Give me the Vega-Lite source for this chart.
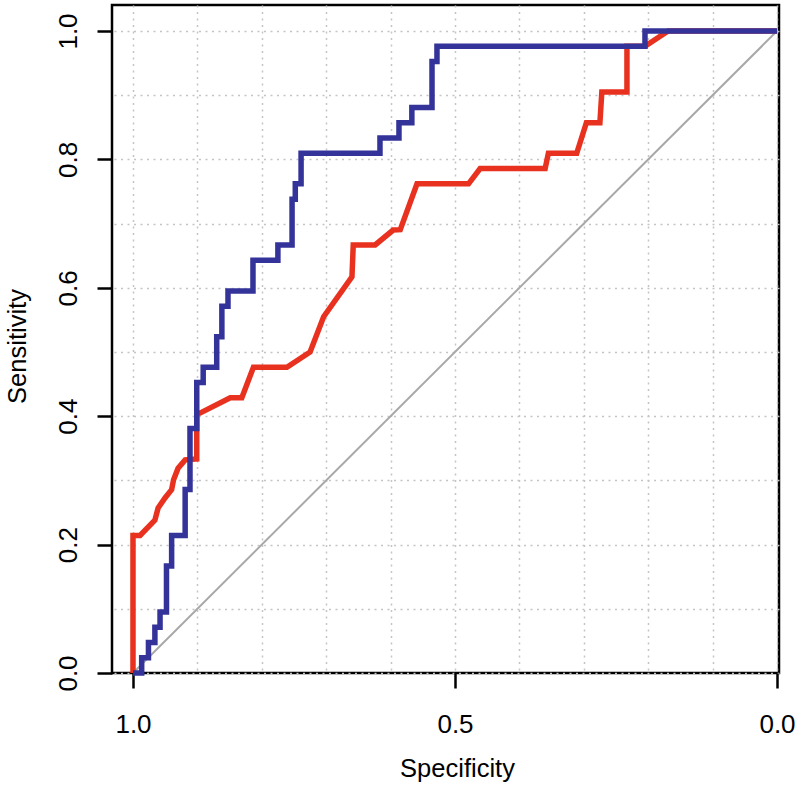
{
  "$schema": "https://vega.github.io/schema/vega-lite/v6.json",
  "width": 667,
  "height": 668,
  "autosize": {"type": "none"},
  "padding": {"left": 112, "top": 5, "right": 21, "bottom": 118},
  "background": "white",
  "config": {
    "view": {"stroke": "black", "strokeWidth": 2.5},
    "font": "Liberation Sans"
  },
  "datasets": {
    "diag": [
      {"i": 0, "spec": 1.0, "sens": 0.0},
      {"i": 1, "spec": 0.0, "sens": 1.0}
    ],
    "red": [
      {"i": 1, "spec": 1.0, "sens": 0.0},
      {"i": 2, "spec": 1.0, "sens": 0.2143},
      {"i": 3, "spec": 0.989, "sens": 0.2143},
      {"i": 4, "spec": 0.966, "sens": 0.238},
      {"i": 5, "spec": 0.961, "sens": 0.257},
      {"i": 6, "spec": 0.95, "sens": 0.273},
      {"i": 7, "spec": 0.94, "sens": 0.2857},
      {"i": 8, "spec": 0.937, "sens": 0.301},
      {"i": 9, "spec": 0.93, "sens": 0.319},
      {"i": 10, "spec": 0.919, "sens": 0.332},
      {"i": 11, "spec": 0.901, "sens": 0.3333},
      {"i": 12, "spec": 0.901, "sens": 0.4048},
      {"i": 13, "spec": 0.896, "sens": 0.4048},
      {"i": 14, "spec": 0.849, "sens": 0.4286},
      {"i": 15, "spec": 0.831, "sens": 0.4286},
      {"i": 16, "spec": 0.813, "sens": 0.4762},
      {"i": 17, "spec": 0.761, "sens": 0.4762},
      {"i": 18, "spec": 0.725, "sens": 0.5},
      {"i": 19, "spec": 0.704, "sens": 0.555},
      {"i": 20, "spec": 0.66, "sens": 0.617},
      {"i": 21, "spec": 0.658, "sens": 0.6667},
      {"i": 22, "spec": 0.624, "sens": 0.6667},
      {"i": 23, "spec": 0.596, "sens": 0.69},
      {"i": 24, "spec": 0.585, "sens": 0.6905},
      {"i": 25, "spec": 0.559, "sens": 0.7619},
      {"i": 26, "spec": 0.479, "sens": 0.7619},
      {"i": 27, "spec": 0.461, "sens": 0.7857},
      {"i": 28, "spec": 0.36, "sens": 0.7857},
      {"i": 29, "spec": 0.355, "sens": 0.8095},
      {"i": 30, "spec": 0.311, "sens": 0.8095},
      {"i": 31, "spec": 0.296, "sens": 0.8571},
      {"i": 32, "spec": 0.275, "sens": 0.8571},
      {"i": 33, "spec": 0.272, "sens": 0.9048},
      {"i": 34, "spec": 0.233, "sens": 0.9048},
      {"i": 35, "spec": 0.233, "sens": 0.9762},
      {"i": 36, "spec": 0.205, "sens": 0.9762},
      {"i": 37, "spec": 0.169, "sens": 1.0},
      {"i": 38, "spec": 0.0, "sens": 1.0}
    ],
    "blue": [
      {"i": 1, "spec": 1.0, "sens": 0.0},
      {"i": 2, "spec": 0.9865, "sens": 0.0},
      {"i": 3, "spec": 0.9865, "sens": 0.0238},
      {"i": 4, "spec": 0.976, "sens": 0.0238},
      {"i": 5, "spec": 0.976, "sens": 0.0476},
      {"i": 6, "spec": 0.966, "sens": 0.0476},
      {"i": 7, "spec": 0.966, "sens": 0.0714},
      {"i": 8, "spec": 0.958, "sens": 0.0714},
      {"i": 9, "spec": 0.958, "sens": 0.0952},
      {"i": 10, "spec": 0.948, "sens": 0.0952},
      {"i": 11, "spec": 0.948, "sens": 0.1667},
      {"i": 12, "spec": 0.94, "sens": 0.1667},
      {"i": 13, "spec": 0.94, "sens": 0.2143},
      {"i": 14, "spec": 0.919, "sens": 0.2143},
      {"i": 15, "spec": 0.919, "sens": 0.2857},
      {"i": 16, "spec": 0.9115, "sens": 0.2857},
      {"i": 17, "spec": 0.9115, "sens": 0.381},
      {"i": 18, "spec": 0.901, "sens": 0.381},
      {"i": 19, "spec": 0.901, "sens": 0.4524},
      {"i": 20, "spec": 0.891, "sens": 0.4524},
      {"i": 21, "spec": 0.891, "sens": 0.4762},
      {"i": 22, "spec": 0.87, "sens": 0.4762},
      {"i": 23, "spec": 0.87, "sens": 0.5238},
      {"i": 24, "spec": 0.862, "sens": 0.5238},
      {"i": 25, "spec": 0.862, "sens": 0.5714},
      {"i": 26, "spec": 0.8525, "sens": 0.5714},
      {"i": 27, "spec": 0.8525, "sens": 0.5952},
      {"i": 28, "spec": 0.8137, "sens": 0.5952},
      {"i": 29, "spec": 0.8137, "sens": 0.6429},
      {"i": 30, "spec": 0.775, "sens": 0.6429},
      {"i": 31, "spec": 0.775, "sens": 0.6667},
      {"i": 32, "spec": 0.753, "sens": 0.6667},
      {"i": 33, "spec": 0.753, "sens": 0.7381},
      {"i": 34, "spec": 0.748, "sens": 0.7381},
      {"i": 35, "spec": 0.748, "sens": 0.7619},
      {"i": 36, "spec": 0.739, "sens": 0.7619},
      {"i": 37, "spec": 0.739, "sens": 0.8095},
      {"i": 38, "spec": 0.6165, "sens": 0.8095},
      {"i": 39, "spec": 0.6165, "sens": 0.8333},
      {"i": 40, "spec": 0.587, "sens": 0.8333},
      {"i": 41, "spec": 0.587, "sens": 0.8571},
      {"i": 42, "spec": 0.567, "sens": 0.8571},
      {"i": 43, "spec": 0.567, "sens": 0.881},
      {"i": 44, "spec": 0.5357, "sens": 0.881},
      {"i": 45, "spec": 0.5357, "sens": 0.9524},
      {"i": 46, "spec": 0.528, "sens": 0.9524},
      {"i": 47, "spec": 0.528, "sens": 0.9762},
      {"i": 48, "spec": 0.205, "sens": 0.9762},
      {"i": 49, "spec": 0.205, "sens": 1.0},
      {"i": 50, "spec": 0.0, "sens": 1.0}
    ]
  },
  "encoding": {
    "x": {
      "field": "spec",
      "type": "quantitative",
      "scale": {"domain": [-0.0031, 1.0326], "reverse": true, "nice": false, "zero": false},
      "axis": {
        "title": "Specificity",
        "values": [0, 0.1, 0.2, 0.3, 0.4, 0.5, 0.6, 0.7, 0.8, 0.9, 1],
        "labelExpr": "indexof([0, 0.5, 1], datum.value) >= 0 ? format(datum.value, '.1f') : ''",
        "domain": false,
        "grid": true,
        "gridColor": "#c4c4c4",
        "gridDash": [2, 4.5],
        "gridWidth": 1.5,
        "ticks": true,
        "tickSize": 15,
        "tickWidth": 2.5,
        "tickColor": "black",
        "tickOpacity": {"condition": {"test": "indexof([0, 0.5, 1], datum.value) >= 0", "value": 1}, "value": 0},
        "labelFontSize": 26,
        "labelColor": "black",
        "labelPadding": 44,
        "labelBaseline": "alphabetic",
        "labelAlign": "center",
        "labelFlush": false,
        "labelOverlap": false,
        "labelBound": false,
        "titleFontSize": 25.5,
        "titleFontWeight": "normal",
        "titleColor": "black",
        "titleX": 345,
        "titleY": 103,
        "titleAlign": "center",
        "titleBaseline": "alphabetic"
      }
    },
    "y": {
      "field": "sens",
      "type": "quantitative",
      "scale": {"domain": [0, 1.0405], "nice": false, "zero": false},
      "axis": {
        "title": "Sensitivity",
        "values": [0, 0.1, 0.2, 0.3, 0.4, 0.5, 0.6, 0.7, 0.8, 0.9, 1],
        "labelExpr": "indexof([0, 0.2, 0.4, 0.6, 0.8, 1], datum.value) >= 0 ? format(datum.value, '.1f') : ''",
        "domain": false,
        "grid": true,
        "gridColor": "#c4c4c4",
        "gridDash": [2, 4.5],
        "gridWidth": 1.5,
        "ticks": true,
        "tickSize": 15,
        "tickWidth": 2.5,
        "tickColor": "black",
        "tickOpacity": {"condition": {"test": "indexof([0, 0.2, 0.4, 0.6, 0.8, 1], datum.value) >= 0", "value": 1}, "value": 0},
        "labelFontSize": 26,
        "labelColor": "black",
        "labelAngle": 270,
        "labelAlign": "center",
        "labelBaseline": "alphabetic",
        "labelPadding": 21,
        "labelFlush": false,
        "labelOverlap": false,
        "labelBound": false,
        "titleFontSize": 25.5,
        "titleFontWeight": "normal",
        "titleColor": "black",
        "titleAngle": 270,
        "titleX": -87,
        "titleY": 341,
        "titleAlign": "center",
        "titleBaseline": "alphabetic"
      }
    },
    "order": {"field": "i", "type": "quantitative"}
  },
  "layer": [
    {
      "data": {"name": "diag"},
      "mark": {"type": "line", "color": "#a8a8a8", "strokeWidth": 2}
    },
    {
      "data": {"name": "red"},
      "mark": {"type": "line", "color": "#E8321F", "strokeWidth": 5.5, "strokeJoin": "miter", "strokeCap": "butt"}
    },
    {
      "data": {"name": "blue"},
      "mark": {"type": "line", "color": "#33339A", "strokeWidth": 5.5, "strokeJoin": "miter", "strokeCap": "butt"}
    }
  ]
}
